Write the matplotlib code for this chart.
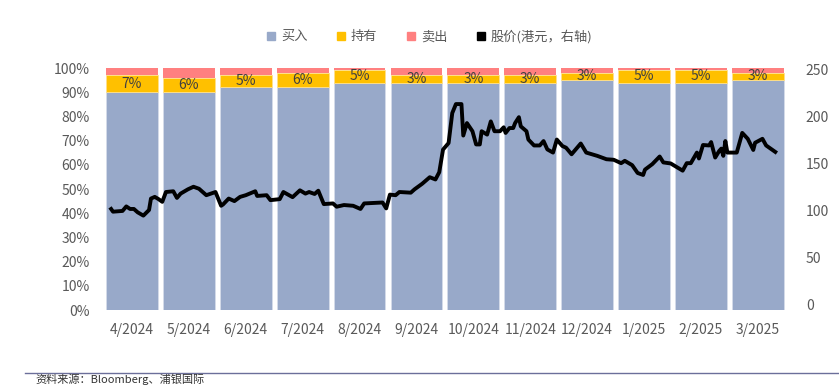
import matplotlib
matplotlib.use("Agg")
import matplotlib.pyplot as plt
from matplotlib.lines import Line2D
import numpy as np
import pandas as pd

plt.rcParams["font.family"] = ["Noto Sans CJK SC", "DejaVu Sans"]

# monthly rating split (%)
months = ["4/2024", "5/2024", "6/2024", "7/2024", "8/2024", "9/2024",
          "10/2024", "11/2024", "12/2024", "1/2025", "2/2025", "3/2025"]
buy = [90, 90, 92, 92, 94, 94, 94, 94, 95, 94, 94, 95]
hold = [7, 6, 5, 6, 5, 3, 3, 3, 3, 5, 5, 3]
sell = [3, 4, 3, 2, 1, 3, 3, 3, 2, 1, 1, 2]

# share price (HKD)
price_dates = [
    "2024-04-05", "2024-04-06", "2024-04-11", "2024-04-13", "2024-04-15", "2024-04-17",
    "2024-04-19", "2024-04-22", "2024-04-25", "2024-04-26", "2024-04-28", "2024-04-30",
    "2024-05-02", "2024-05-04", "2024-05-08", "2024-05-10", "2024-05-12", "2024-05-16",
    "2024-05-19", "2024-05-22", "2024-05-26", "2024-05-31",
    "2024-06-03", "2024-06-04", "2024-06-07", "2024-06-10", "2024-06-13", "2024-06-16",
    "2024-06-21", "2024-06-22", "2024-06-27", "2024-06-29",
    "2024-07-04", "2024-07-06", "2024-07-11", "2024-07-15", "2024-07-18", "2024-07-20",
    "2024-07-23", "2024-07-25", "2024-07-28",
    "2024-08-02", "2024-08-04", "2024-08-08", "2024-08-13", "2024-08-17", "2024-08-19",
    "2024-08-29", "2024-08-31",
    "2024-09-02", "2024-09-05", "2024-09-07", "2024-09-13", "2024-09-15", "2024-09-19",
    "2024-09-23", "2024-09-26", "2024-09-28", "2024-09-30",
    "2024-10-03", "2024-10-05", "2024-10-07", "2024-10-10", "2024-10-11", "2024-10-13",
    "2024-10-16", "2024-10-18", "2024-10-20", "2024-10-21", "2024-10-24", "2024-10-26",
    "2024-10-28", "2024-10-31",
    "2024-11-02", "2024-11-03", "2024-11-05", "2024-11-07", "2024-11-08", "2024-11-10",
    "2024-11-11", "2024-11-14", "2024-11-15", "2024-11-18", "2024-11-21", "2024-11-23",
    "2024-11-25", "2024-11-28", "2024-11-30",
    "2024-12-03", "2024-12-05", "2024-12-08", "2024-12-13", "2024-12-16", "2024-12-22",
    "2024-12-27", "2024-12-31",
    "2025-01-04", "2025-01-06", "2025-01-10", "2025-01-13", "2025-01-16", "2025-01-17",
    "2025-01-21", "2025-01-25", "2025-01-27", "2025-01-31",
    "2025-02-06", "2025-02-08", "2025-02-10", "2025-02-13", "2025-02-14", "2025-02-16",
    "2025-02-19", "2025-02-20", "2025-02-22", "2025-02-24", "2025-02-25", "2025-02-26",
    "2025-02-27", "2025-02-28",
    "2025-03-05", "2025-03-08", "2025-03-11", "2025-03-14", "2025-03-15", "2025-03-19",
    "2025-03-21", "2025-03-26",
]
price = [
    101.6, 98.7, 99.5, 104.3, 101.6, 101.6, 98.0, 94.5, 100.5, 112.7, 114.5, 112.1,
    109.2, 119.7, 120.5, 113.4, 118.0, 122.6, 125.3, 123.2, 116.3, 119.7,
    105.0, 106.4, 112.7, 110.0, 114.5, 116.3, 120.5, 115.5, 116.3, 111.0,
    112.1, 119.7, 114.2, 121.5, 118.0, 119.7, 117.6, 121.1, 106.8,
    107.5, 104.0, 105.8, 105.0, 101.6, 107.5, 108.5, 102.2,
    116.9, 116.3, 119.7, 119.0, 122.6, 128.5, 135.5, 133.1, 140.8, 165.0,
    172.0, 204.0, 213.6, 213.6, 180.0, 193.3, 184.6, 170.5, 170.5, 184.6, 181.0, 195.1,
    184.6, 184.6,
    188.8, 182.8, 188.0, 188.0, 193.3, 199.6, 189.8, 184.6, 175.7, 169.4, 169.4, 174.1,
    165.2, 161.8, 175.7,
    168.8, 167.0, 160.0, 171.5, 161.8, 158.3, 154.7, 154.1,
    150.5, 153.0, 148.4, 140.0, 137.9, 143.6, 149.5, 157.6, 151.3, 150.2,
    142.5, 150.5, 150.5, 161.8, 155.5, 169.9, 169.4, 173.0, 156.5, 163.6, 166.0, 158.3,
    174.1, 161.8,
    161.8, 182.8, 176.5, 164.6, 172.3, 176.5, 169.4, 162.5,
]

c_buy = "#98A9C9"
c_hold = "#FFC000"
c_sell = "#FF8080"
txt = "#595959"

# map dates onto the monthly category axis
d = pd.to_datetime(price_dates)
month_idx = (d.year - 2024) * 12 + d.month - 4
px = month_idx + (d.day - 1) / d.days_in_month - 0.5

fig = plt.figure(figsize=(8.39, 3.90), dpi=100)
ax = fig.add_axes([0.1234, 0.2051, 0.8138, 0.6205])

x = np.arange(len(months))
buy = np.array(buy)
hold = np.array(hold)
sell = np.array(sell)
w = 0.91
ax.bar(x, buy, w, color=c_buy, edgecolor="#D5DCEA", linewidth=0.6)
ax.bar(x, hold, w, bottom=buy, color=c_hold, edgecolor="#FFE08A", linewidth=0.6)
ax.bar(x, sell, w, bottom=buy + hold, color=c_sell, linewidth=0)
for i in range(len(months)):
    ax.text(x[i], buy[i] + hold[i] / 2, f"{hold[i]}%", ha="center", va="center",
            fontsize=10, color="#404040")

ax.set_xlim(-0.5, len(months) - 0.5)
ax.set_ylim(0, 100)
ax.set_yticks(np.arange(0, 101, 10))
ax.set_yticklabels([f"{v}%" for v in range(0, 101, 10)])
ax.set_xticks(x)
ax.set_xticklabels(months)
ax.tick_params(length=0, colors=txt, labelsize=10)
ax.tick_params(axis="x", pad=9)
ax.tick_params(axis="y", pad=10)
for s in ax.spines.values():
    s.set_visible(False)

ax2 = ax.twinx()
ax2.plot(px, price, color="black", linewidth=2.8, solid_joinstyle="round")
ax2.set_ylim(-6.3, 252.1)
ax2.set_yticks(np.arange(0, 251, 50))
ax2.tick_params(length=0, colors=txt, labelsize=10, pad=14)
for s in ax2.spines.values():
    s.set_visible(False)

handles = [
    Line2D([], [], marker="s", linestyle="none", color=c_buy, markersize=6),
    Line2D([], [], marker="s", linestyle="none", color=c_hold, markersize=6),
    Line2D([], [], marker="s", linestyle="none", color=c_sell, markersize=6),
    Line2D([], [], marker="s", linestyle="none", color="black", markersize=6),
]
fig.legend(handles, ["买入", "持有", "卖出", "股价(港元，右轴)"], loc="center",
           bbox_to_anchor=(0.512, 0.907), ncol=4, frameon=False, fontsize=9.5,
           labelcolor=txt, handlelength=0.7, handletextpad=0.4, columnspacing=2.2)

fig.add_artist(Line2D([0.03, 1.0], [0.043, 0.043], color="#6B6F9A", linewidth=1))
fig.text(0.042, 0.018, "资料来源：Bloomberg、浦银国际", fontsize=8, color="#333333")

fig.savefig("out.png", dpi=100)
